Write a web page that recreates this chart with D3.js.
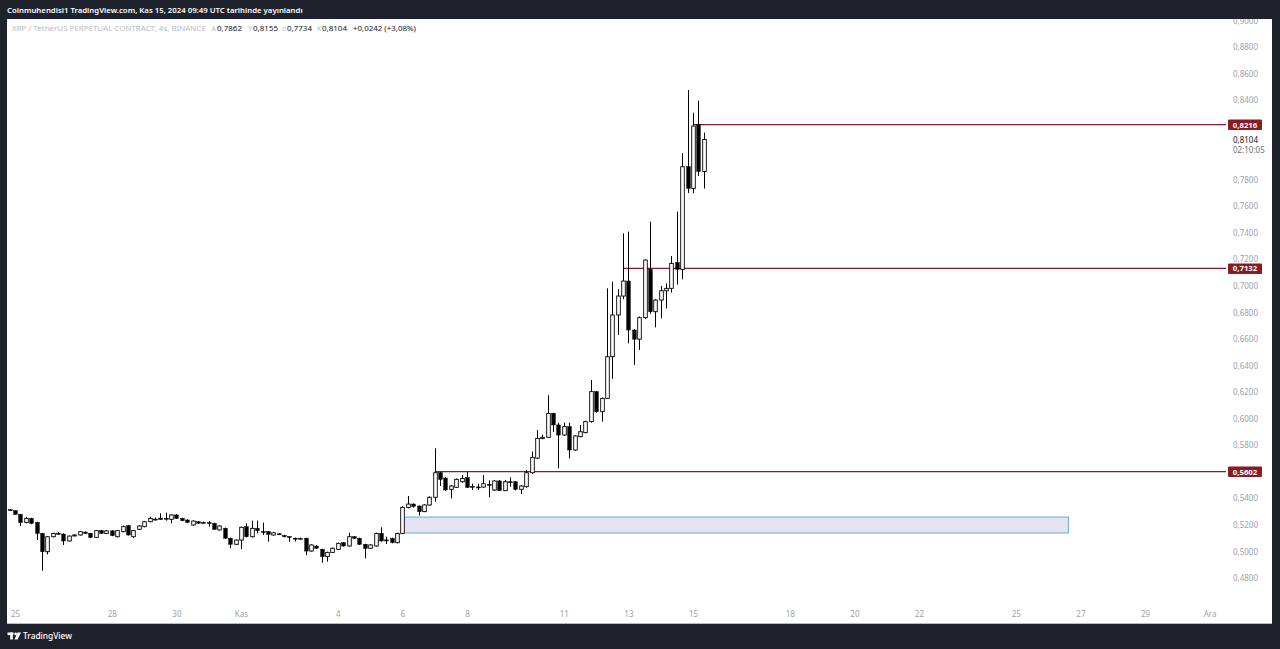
<!DOCTYPE html>
<html><head><meta charset="utf-8">
<script src="https://cdn.jsdelivr.net/npm/d3@7"></script>
<style>html,body{margin:0;padding:0;background:#1e222d;overflow:hidden}svg{display:block}</style>
</head><body><svg id="c" width="1280" height="649"></svg>
<script>
// ---- DATA ----
const firstCandle = Date.UTC(2024, 9, 24, 20); // 4h candles
const opens  = [.5315,.5307,.5280,.5219,.5249,.5219,.5136,.4998,.5111,.5136,.5131,.5079,.5120,.5124,.5146,.5136,.5106,.5157,.5136,.5155,.5111,.5149,.5194,.5111,.5167,.5187,.5224,.5244,.5246,.5250,.5242,.5275,.5249,.5237,.5199,.5224,.5219,.5217,.5212,.5162,.5174,.5099,.5054,.5086,.5187,.5111,.5174,.5150,.5149,.5124,.5133,.5121,.5112,.5100,.5099,.5099,.5003,.5041,.5016,.4961,.4993,.5016,.5066,.5041,.5111,.5099,.5054,.5024,.5041,.5136,.5087,.5099,.5066,.5136,.5332,.5357,.5342,.5300,.5350,.5408,.5593,.5553,.5468,.5483,.5525,.5556,.5490,.5486,.5485,.5505,.5463,.5531,.5458,.5525,.5525,.5468,.5488,.5593,.5703,.5850,.5860,.6040,.5953,.5877,.5940,.5764,.5865,.5895,.5978,.6204,.6053,.6153,.6467,.6781,.6924,.7037,.6668,.6599,.6761,.7125,.6806,.6894,.6964,.6982,.7176,.7125,.7898,.7735,.8216,.7862];
const highs  = [.5318,.5310,.5283,.5262,.5254,.5224,.5140,.5115,.5140,.5145,.5136,.5120,.5130,.5153,.5150,.5140,.5162,.5162,.5162,.5160,.5162,.5194,.5200,.5162,.5197,.5230,.5262,.5255,.5287,.5292,.5280,.5280,.5254,.5242,.5234,.5228,.5226,.5229,.5217,.5197,.5180,.5104,.5090,.5187,.5212,.5232,.5232,.5217,.5153,.5145,.5138,.5125,.5116,.5104,.5104,.5104,.5054,.5046,.5020,.4998,.5029,.5066,.5070,.5141,.5116,.5104,.5058,.5054,.5141,.5182,.5111,.5104,.5141,.5340,.5418,.5362,.5346,.5355,.5415,.5777,.5600,.5560,.5500,.5550,.5576,.5601,.5510,.5510,.5576,.5535,.5538,.5538,.5538,.5558,.5530,.5500,.5614,.5752,.5915,.5880,.6178,.6045,.5970,.5970,.5970,.5875,.5953,.5985,.6292,.6210,.6160,.6982,.7032,.6976,.7396,.7409,.6675,.6770,.7200,.7484,.6900,.7000,.7020,.7226,.7560,.8000,.8476,.8305,.8396,.8155];
const lows   = [.5305,.5277,.5192,.5212,.5205,.5086,.4855,.4978,.5106,.5128,.5049,.5075,.5115,.5120,.5132,.5100,.5102,.5132,.5130,.5115,.5106,.5145,.5120,.5100,.5162,.5182,.5220,.5232,.5237,.5232,.5212,.5245,.5228,.5215,.5195,.5208,.5212,.5187,.5162,.5158,.5095,.5024,.5050,.5018,.5106,.5106,.5136,.5124,.5074,.5120,.5126,.5106,.5074,.5074,.5090,.4973,.4998,.5020,.4915,.4923,.4990,.5012,.5036,.5036,.5094,.5049,.4948,.5020,.5036,.5074,.5056,.5061,.5061,.5130,.5325,.5330,.5270,.5296,.5345,.5375,.5493,.5455,.5400,.5478,.5518,.5478,.5463,.5463,.5480,.5408,.5455,.5455,.5455,.5488,.5460,.5433,.5480,.5585,.5695,.5845,.5855,.5900,.5626,.5870,.5701,.5758,.5860,.5890,.5970,.6045,.5978,.6150,.6300,.6631,.6900,.6568,.6405,.6518,.6750,.6790,.6688,.6756,.6831,.6950,.7010,.7050,.7700,.7698,.7828,.7734];
const closes = [.5307,.5280,.5219,.5249,.5212,.5136,.4998,.5111,.5136,.5134,.5079,.5116,.5124,.5149,.5136,.5106,.5157,.5136,.5155,.5119,.5157,.5187,.5124,.5157,.5192,.5224,.5249,.5240,.5250,.5247,.5275,.5249,.5232,.5219,.5229,.5212,.5217,.5215,.5167,.5192,.5099,.5054,.5086,.5182,.5111,.5174,.5157,.5148,.5129,.5141,.5131,.5111,.5110,.5098,.5098,.5003,.5049,.5024,.4961,.4993,.5024,.5061,.5041,.5111,.5099,.5054,.5024,.5049,.5136,.5079,.5085,.5066,.5136,.5332,.5357,.5340,.5300,.5350,.5408,.5593,.5543,.5463,.5493,.5543,.5550,.5483,.5488,.5484,.5510,.5503,.5531,.5458,.5525,.5523,.5468,.5493,.5593,.5709,.5852,.5860,.6040,.5953,.5877,.5940,.5764,.5870,.5902,.5978,.6204,.6053,.6153,.6467,.6781,.6924,.7037,.6668,.6599,.6761,.7195,.6806,.6894,.6964,.6982,.7170,.7125,.7898,.7735,.8205,.7862,.8104];

const priceTicks = [0.48,0.50,0.52,0.54,0.58,0.60,0.62,0.64,0.66,0.68,0.70,0.72,0.74,0.76,0.78,0.84,0.86,0.88,0.90];
const dateTicks = [Date.UTC(2024,9,25),Date.UTC(2024,9,28),Date.UTC(2024,9,30),Date.UTC(2024,10,1),Date.UTC(2024,10,4),Date.UTC(2024,10,6),Date.UTC(2024,10,8),Date.UTC(2024,10,11),Date.UTC(2024,10,13),Date.UTC(2024,10,15),Date.UTC(2024,10,18),Date.UTC(2024,10,20),Date.UTC(2024,10,22),Date.UTC(2024,10,25),Date.UTC(2024,10,27),Date.UTC(2024,10,29),Date.UTC(2024,11,1)];
const dateTickLabels = ["25","28","30","Kas","4","6","8","11","13","15","18","20","22","25","27","29","Ara"];

const levelPrices = [0.8216, 0.7132, 0.5602];
const levelStarts = [Date.UTC(2024,10,15,0), Date.UTC(2024,10,12,20), Date.UTC(2024,10,7,0)];
const zonePrices = [0.5259, 0.5139];
const zoneTimes = [Date.UTC(2024,10,6,0), Date.UTC(2024,10,26,15)];

const lastPriceText = "0,8104";
const countdownText = "02:10:05";
const headerText = "Coinmuhendisi1 TradingView.com, Kas 15, 2024 09:49 UTC tarihinde yayınlandı";
const symbolText = "XRP / TetherUS PERPETUAL CONTRACT, 4s, BINANCE";
const legendLetters = ["A","Y","D","K"];
const legendValues = ["0,7862","0,8155","0,7734","0,8104"];
const changeText = "+0,0242 (+3,08%)";

// ---- CHART ----
const svg = d3.select("#c");
const FONT = "'Noto Sans', 'Open Sans', sans-serif";
const W = 1280, H = 649;
const plot = {x0: 7, x1: 1272, y0: 19, y1: 624};
const axisX = 1226;

const x = d3.scaleUtc().domain([Date.UTC(2024,9,25), Date.UTC(2024,10,15)]).range([15, 693]);
const y = d3.scaleLinear().domain([0.48, 0.88]).range([578, 47]);
const fmt = v => d3.format(".4f")(v).replace(".", ",");

// shrink font so the natural width matches a target width
function fitText(sel, target, base) {
  sel.style("font-size", base + "px");
  const len = sel.node().getComputedTextLength();
  if (len > 0) sel.style("font-size", (base * target / len).toFixed(2) + "px");
  return sel;
}

svg.append("rect").attr("width", W).attr("height", H).attr("fill", "#1e222d");
svg.append("rect").attr("x", plot.x0).attr("y", plot.y0).attr("width", plot.x1 - plot.x0).attr("height", plot.y1 - plot.y0).attr("fill", "#ffffff");
svg.append("line").attr("x1", plot.x0).attr("x2", plot.x1).attr("y1", plot.y1 - 0.5).attr("y2", plot.y1 - 0.5).attr("stroke", "#b8bbc4").attr("stroke-width", 1);

svg.append("defs").append("clipPath").attr("id", "pc").append("rect")
  .attr("x", plot.x0).attr("y", plot.y0).attr("width", axisX - plot.x0).attr("height", plot.y1 - plot.y0);

// y axis labels
const yAxis = d3.axisRight(y).tickValues(priceTicks).tickFormat(fmt).tickSize(0).tickPadding(0);
const gy = svg.append("g").attr("transform", `translate(1233,0)`).call(yAxis);
gy.select(".domain").remove();
gy.selectAll("text").attr("fill", "#9ea1a9").style("font-family", FONT).style("font-size", "8px");

// x axis labels
const xAxis = d3.axisBottom(x).tickValues(dateTicks).tickFormat((d, i) => dateTickLabels[i]).tickSize(0).tickPadding(0);
const gx = svg.append("g").attr("transform", `translate(0,611.5)`).call(xAxis);
gx.select(".domain").remove();
gx.selectAll("text").attr("fill", "#9ea1a9").style("font-family", FONT).style("font-size", "8px");

const gp = svg.append("g").attr("clip-path", "url(#pc)");

// zone rectangle
gp.append("rect")
  .attr("x", x(zoneTimes[0])).attr("y", y(zonePrices[0]))
  .attr("width", x(zoneTimes[1]) - x(zoneTimes[0]))
  .attr("height", y(zonePrices[1]) - y(zonePrices[0]))
  .attr("fill", "#e6e2f5").attr("stroke", "#5ab4bd").attr("stroke-width", 1);

// level lines
const RED = "#8a1b24";
levelPrices.forEach((p, i) => {
  gp.append("line").attr("x1", x(levelStarts[i])).attr("x2", 1230)
    .attr("y1", y(p)).attr("y2", y(p)).attr("stroke", RED).attr("stroke-width", 1.3);
});

// candles
const candles = opens.map((o, i) => ({t: firstCandle + i * 4 * 3600 * 1000, o, h: highs[i], l: lows[i], c: closes[i]}));
const bw = 3.6;
const cg = gp.append("g");
candles.forEach(d => {
  const cx = Math.round(x(d.t)) + 0.5;
  cg.append("line").attr("x1", cx).attr("x2", cx).attr("y1", y(d.h)).attr("y2", y(d.l)).attr("stroke", "#000").attr("stroke-width", 1);
  const top = y(Math.max(d.o, d.c)), bot = y(Math.min(d.o, d.c));
  const hgt = Math.max(1, bot - top);
  const up = d.c >= d.o;
  cg.append("rect").attr("x", cx - bw / 2).attr("y", top).attr("width", bw).attr("height", hgt)
    .attr("fill", up ? "#ffffff" : "#000000").attr("stroke", "#000").attr("stroke-width", up ? 0.9 : 0.5);
});

// level labels
levelPrices.forEach(p => {
  svg.append("rect").attr("x", 1228).attr("y", y(p) - 5).attr("width", 34).attr("height", 10.5).attr("fill", RED).attr("rx", 1);
  svg.append("text").attr("x", 1245).attr("y", y(p) + 0.3).attr("dy", "0.35em").attr("text-anchor", "middle")
    .attr("fill", "#fff").style("font-family", FONT).style("font-size", "7.8px").style("font-weight", "700").text(fmt(p));
});

// last price + countdown
svg.append("text").attr("x", 1233).attr("y", 140).attr("dy", "0.35em").attr("fill", "#131722")
  .style("font-family", FONT).style("font-size", "8px").text(lastPriceText);
svg.append("text").attr("x", 1233).attr("y", 150.5).attr("dy", "0.35em").attr("fill", "#6a6d78")
  .style("font-family", FONT).style("font-size", "8px").text(countdownText);

// header band
svg.append("rect").attr("x", 0).attr("y", 0).attr("width", W).attr("height", plot.y0).attr("fill", "#1e222d");
fitText(svg.append("text").attr("x", 7).attr("y", 10).attr("dy", "0.35em").attr("fill", "#ffffff")
  .style("font-family", FONT).style("font-weight", "600").text(headerText), 296, 8.5);

// legend
const LY = 28.5;
const lg = svg.append("g").style("font-family", FONT);
fitText(lg.append("text").attr("x", 12).attr("y", LY).attr("dy", "0.35em").attr("fill", "#b8bbc4").text(symbolText), 194, 8.5);
const letterX = [211.5, 248, 282, 317];
const valueX = [217, 253, 287, 322];
legendLetters.forEach((L, i) => {
  fitText(lg.append("text").attr("x", letterX[i]).attr("y", LY).attr("dy", "0.35em").attr("fill", "#b8bbc4").text(L), 4.3, 8);
  fitText(lg.append("text").attr("x", valueX[i]).attr("y", LY).attr("dy", "0.35em").attr("fill", "#131722").text(legendValues[i]), 25, 8.5);
});
fitText(lg.append("text").attr("x", 353).attr("y", LY).attr("dy", "0.35em").attr("fill", "#131722").text(changeText), 63, 8.5);

// bottom logo
const logo = svg.append("g").attr("fill", "#ffffff");
logo.append("rect").attr("x", 7.5).attr("y", 632.5).attr("width", 6).attr("height", 2.6);
logo.append("rect").attr("x", 10.2).attr("y", 632.5).attr("width", 2.6).attr("height", 7);
logo.append("circle").attr("cx", 15.6).attr("cy", 633.8).attr("r", 1.4);
logo.append("path").attr("d", "M17.6,632.5 L21,632.5 L17.6,639.5 L14.4,639.5 Z");
fitText(svg.append("text").attr("x", 23).attr("y", 636.5).attr("dy", "0.35em").attr("fill", "#ffffff")
  .style("font-family", FONT).style("font-weight", "500").text("TradingView"), 49, 9);
</script></body></html>
